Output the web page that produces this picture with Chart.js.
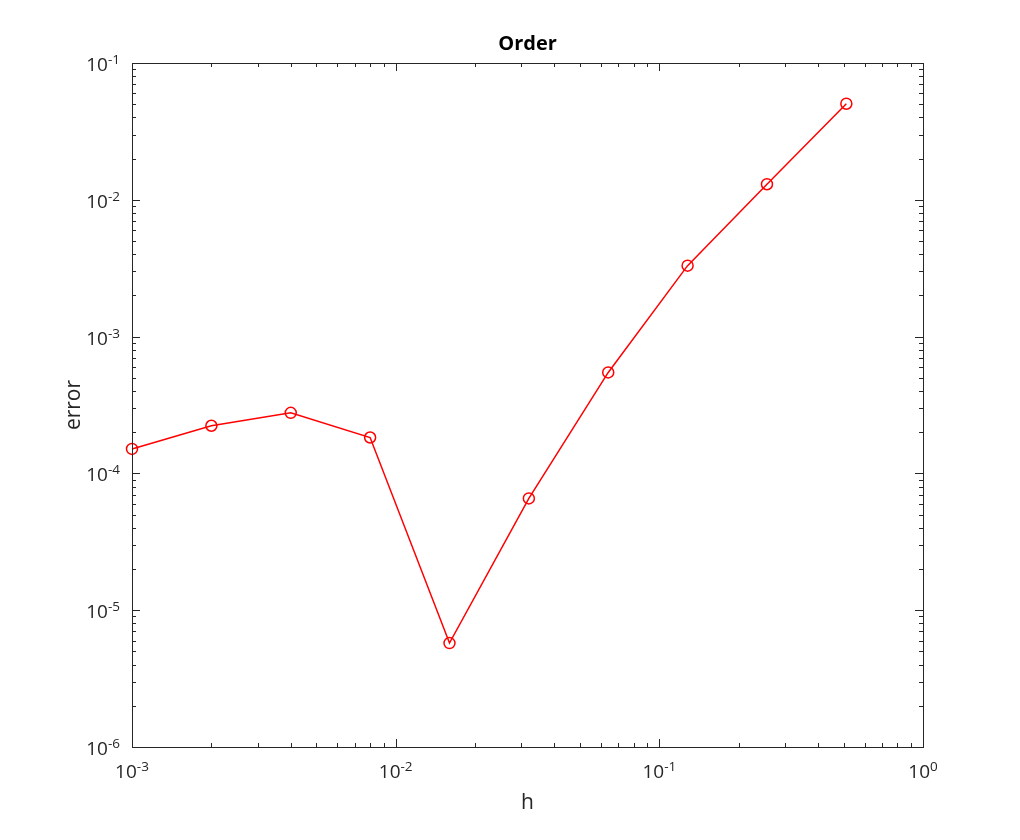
<html>
<head>
  <script src="https://cdn.jsdelivr.net/npm/chart.js@4/dist/chart.umd.min.js"></script>
  <style>
    body { margin:0; background:#fff; }
    #wrap { width:1020px; height:840px; }
  </style>
</head>
<body>
  <div id="wrap">
    <canvas id="order-chart" width="1020" height="840"></canvas>
  </div>

<script>
// data
var hVals   = [0.001, 0.002, 0.004, 0.008, 0.016, 0.032, 0.064, 0.128, 0.256, 0.512];
var errVals = [1.51e-4, 2.23e-4, 2.77e-4, 1.83e-4, 5.75e-6, 6.56e-5, 5.47e-4, 3.30e-3, 1.30e-2, 5.04e-2];
var xTickExps = [-3, -2, -1, 0];
var yTickExps = [-6, -5, -4, -3, -2, -1];

var axisColor = '#262626';
var fontName = '"Open Sans", "Noto Sans", sans-serif';

var points = [];
for (var i = 0; i < hVals.length; i++) {
  points.push({x: hVals[i], y: errVals[i]});
}

// superscript label like 10^-3
function powLabel(ctx, e, x, y, align) {
  var sup = String(e);
  ctx.font = '19px ' + fontName;
  var w1 = ctx.measureText('10').width;
  ctx.font = '13.5px ' + fontName;
  var w2 = ctx.measureText(sup).width;
  var left = align == 'right' ? x - w1 - w2 : x - (w1 + w2) / 2;
  ctx.textAlign = 'left';
  ctx.textBaseline = 'alphabetic';
  ctx.font = '19px ' + fontName;
  ctx.fillText('10', left, y);
  ctx.font = '13.5px ' + fontName;
  ctx.fillText(sup, left + w1, y - 7);
}

var matlabAxes = {
  id: 'matlabAxes',
  afterDraw: function(chart) {
    var ctx = chart.ctx;
    var a = chart.chartArea;
    var xs = chart.scales.x, ys = chart.scales.y;
    ctx.save();
    ctx.strokeStyle = axisColor;
    ctx.fillStyle = axisColor;
    ctx.lineWidth = 1;

    // box
    ctx.strokeRect(a.left + 0.5, a.top + 0.5, a.right - a.left, a.bottom - a.top);

    // x ticks (top and bottom, inward)
    ctx.beginPath();
    for (var e = xTickExps[0]; e <= xTickExps[xTickExps.length - 1]; e++) {
      for (var m = 1; m <= 9; m++) {
        var v = m * Math.pow(10, e);
        if (v > xs.max * 1.0001) break;
        var px = Math.round(xs.getPixelForValue(v)) + 0.5;
        var len = m == 1 ? 8 : 4;
        ctx.moveTo(px, a.bottom); ctx.lineTo(px, a.bottom - len);
        ctx.moveTo(px, a.top); ctx.lineTo(px, a.top + len);
      }
    }
    // y ticks (left and right, inward)
    for (var e2 = yTickExps[0]; e2 <= yTickExps[yTickExps.length - 1]; e2++) {
      for (var m2 = 1; m2 <= 9; m2++) {
        var v2 = m2 * Math.pow(10, e2);
        if (v2 > ys.max * 1.0001) break;
        var py = Math.round(ys.getPixelForValue(v2)) + 0.5;
        var len2 = m2 == 1 ? 8 : 4;
        ctx.moveTo(a.left, py); ctx.lineTo(a.left + len2, py);
        ctx.moveTo(a.right, py); ctx.lineTo(a.right - len2, py);
      }
    }
    ctx.stroke();

    // tick labels
    xTickExps.forEach(function(e) {
      powLabel(ctx, e, xs.getPixelForValue(Math.pow(10, e)), a.bottom + 31, 'center');
    });
    yTickExps.forEach(function(e) {
      powLabel(ctx, e, a.left - 12, ys.getPixelForValue(Math.pow(10, e)) + 8, 'right');
    });

    // axis titles and title
    var cx = (a.left + a.right) / 2;
    var cy = (a.top + a.bottom) / 2;
    ctx.textAlign = 'center';
    ctx.textBaseline = 'alphabetic';
    ctx.font = '21px ' + fontName;
    ctx.fillText('h', cx, a.bottom + 62);
    ctx.save();
    ctx.translate(80, cy);
    ctx.rotate(-Math.PI / 2);
    ctx.fillText('error', 0, 0);
    ctx.restore();
    ctx.fillStyle = '#000';
    ctx.font = 'bold 20px ' + fontName;
    ctx.fillText('Order', cx, a.top - 13);
    ctx.restore();
  }
};

new Chart(document.getElementById('order-chart'), {
  type: 'scatter',
  data: {
    datasets: [{
      label: 'error',
      data: points,
      showLine: true,
      borderColor: '#ff0000',
      borderWidth: 1.5,
      pointStyle: 'circle',
      pointRadius: 5.5,
      pointBorderWidth: 1.5,
      pointBorderColor: '#ff0000',
      pointBackgroundColor: 'rgba(0,0,0,0)',
      clip: false
    }]
  },
  options: {
    responsive: false,
    animation: false,
    layout: { padding: { left: 132, right: 97, top: 63, bottom: 93 } },
    plugins: {
      legend: { display: false },
      title: { display: false },
      tooltip: { enabled: false }
    },
    scales: {
      x: { type: 'logarithmic', min: 1e-3, max: 1, display: false },
      y: { type: 'logarithmic', min: 1e-6, max: 1e-1, display: false }
    }
  },
  plugins: [matlabAxes]
});
</script>
</body>
</html>
